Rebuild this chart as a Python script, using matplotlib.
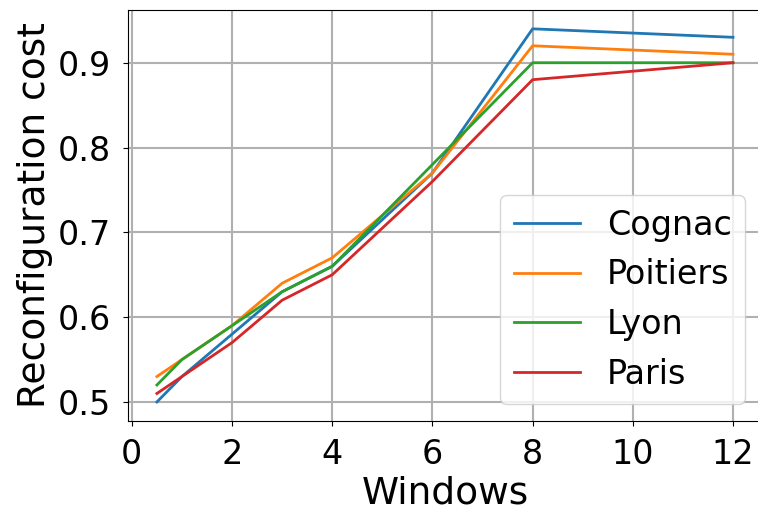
import matplotlib
matplotlib.use("Agg")
from matplotlib import pyplot as plt

windows = [0.5, 1, 2, 3, 4, 6, 8, 12]
cognac = [0.50, 0.53, 0.58, 0.63, 0.66, 0.77, 0.94, 0.93]
poitiers = [0.53, 0.55, 0.59, 0.64, 0.67, 0.77, 0.92, 0.91]
lyon = [0.52, 0.55, 0.59, 0.63, 0.66, 0.78, 0.90, 0.90]
paris = [0.51, 0.53, 0.57, 0.62, 0.65, 0.76, 0.88, 0.90]
names = ["Cognac", "Poitiers", "Lyon", "Paris"]

plt.rcParams["font.size"] = 24
fig, ax = plt.subplots(figsize=(7.58, 5.08), dpi=100)
for name, vals in zip(names, [cognac, poitiers, lyon, paris]):
    ax.plot(windows, vals, label=name, linewidth=2)
ax.set_xlabel("Windows", fontsize=27, labelpad=3)
ax.set_ylabel("Reconfiguration cost", fontsize=27, labelpad=3)
ax.set_xticks([0, 2, 4, 6, 8, 10, 12])
ax.set_yticks([0.5, 0.6, 0.7, 0.8, 0.9])
ax.tick_params(pad=9)
ax.grid(True, linewidth=1.5)
ax.legend(loc="lower right", fontsize=24)
# axes runs slightly past the right edge like the original crop
fig.subplots_adjust(left=0.169, right=1.005, top=0.980, bottom=0.172)
fig.savefig("out.png")
